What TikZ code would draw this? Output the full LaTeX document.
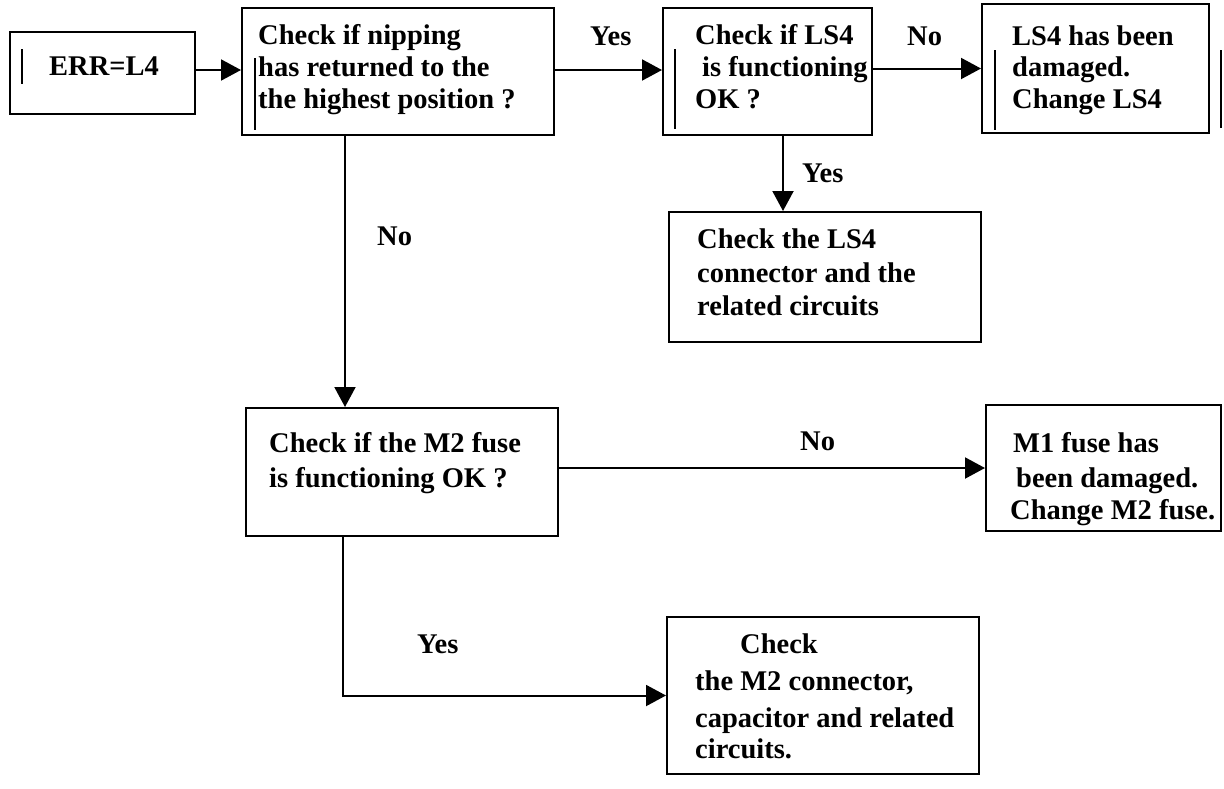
\documentclass[tikz,border=0pt]{standalone}
\usepackage{fontspec}
\setmainfont{Liberation Serif}
\usetikzlibrary{arrows.meta,calc}
\begin{document}
\begin{tikzpicture}[x=1pt,y=-1pt,
  box/.style={draw=black, line width=2pt, rectangle, inner sep=0pt},
  txt/.style={anchor=base west, inner sep=0pt, font=\bfseries\fontsize{28.5}{34}\selectfont},
  arr/.style={draw=black, line width=2pt, -{Triangle[length=20pt,width=21pt]}},
  bar/.style={draw=black, line width=1.8pt}
]
\useasboundingbox (0,0) rectangle (1224,788);
\fill[white] (0,0) rectangle (1224,788);

% boxes
\node[box, minimum width=185pt, minimum height=82pt] (err) at (102.5,73) {};
\node[box, minimum width=312pt, minimum height=127pt] (nip) at (398,71.5) {};
\node[box, minimum width=209pt, minimum height=127pt] (ls4) at (767.5,71.5) {};
\node[box, minimum width=227pt, minimum height=129pt] (dam) at (1095.5,68.5) {};
\node[box, minimum width=312pt, minimum height=130pt] (con) at (825,277) {};
\node[box, minimum width=312pt, minimum height=128pt] (fuse) at (402,472) {};
\node[box, minimum width=235pt, minimum height=126pt] (m1) at (1103.5,468) {};
\node[box, minimum width=312pt, minimum height=157pt] (m2c) at (823,695.5) {};

% cursor bars
\coordinate (b1a) at (22,49); \coordinate (b1b) at (22,84);
\coordinate (b2a) at (255,58); \coordinate (b2b) at (255,130);
\coordinate (b3a) at (675,49); \coordinate (b3b) at (675,129);
\coordinate (b4a) at (995,50); \coordinate (b4b) at (995,130);
\coordinate (b5a) at (1221,50); \coordinate (b5b) at (1221,128);
\draw[bar] (b1a) -- (b1b);
\draw[bar] (b2a) -- (b2b);
\draw[bar] (b3a) -- (b3b);
\draw[bar] (b4a) -- (b4b);
\draw[bar] (b5a) -- (b5b);

% texts
\node[txt] (errT) at (49,75) {ERR=L4};

\node[txt] (nipT1) at (258,44) {Check if nipping};
\node[txt] (nipT2) at (258,76) {has returned to the};
\node[txt] (nipT3) at (258,108) {the highest position ?};

\node[txt] (ls4T1) at (695,44) {Check if LS4};
\node[txt] (ls4T2) at (702,76) {is functioning};
\node[txt] (ls4T3) at (695,108) {OK ?};

\node[txt] (damT1) at (1012,45) {LS4 has been};
\node[txt] (damT2) at (1012,76) {damaged.};
\node[txt] (damT3) at (1012,108) {Change LS4};

\node[txt] (conT1) at (697,248) {Check the LS4};
\node[txt] (conT2) at (697,282) {connector and the};
\node[txt] (conT3) at (697,315) {related circuits};

\node[txt] (fuseT1) at (269,452) {Check if the M2 fuse};
\node[txt] (fuseT2) at (269,487) {is functioning OK ?};

\node[txt] (m1T1) at (1013,452) {M1 fuse has};
\node[txt] (m1T2) at (1016,487) {been damaged.};
\node[txt] (m1T3) at (1010,519) {Change M2 fuse.};

\node[txt] (m2cT1) at (740,653) {Check};
\node[txt] (m2cT2) at (695,690) {the M2 connector,};
\node[txt] (m2cT3) at (695,727) {capacitor and related};
\node[txt] (m2cT4) at (695,758) {circuits.};

% labels
\node[txt] (lYes1) at (590,45) {Yes};
\node[txt] (lNo1) at (907,45) {No};
\node[txt] (lYes2) at (802,182) {Yes};
\node[txt] (lNo2) at (377,245) {No};
\node[txt] (lNo3) at (800,450) {No};
\node[txt] (lYes3) at (417,653) {Yes};

% connectors
\draw[arr] ([yshift=3pt]err.east) -- ([yshift=3pt]err.east -| nip.west);
\draw[arr] ([yshift=1.5pt]nip.east) -- ([yshift=1.5pt]nip.east -| ls4.west);
\draw[arr] (ls4.east |- dam.west) -- (dam.west);
\draw[arr] ([xshift=15.5pt]ls4.south) -- ([xshift=15.5pt]ls4.south |- con.north);
\draw[arr] ([xshift=-53pt]nip.south) -- ([xshift=-53pt]nip.south |- fuse.north);
\draw[arr] (fuse.east |- m1.west) -- (m1.west);
\draw[arr] ([xshift=-59pt]fuse.south) |- (m2c.west);
\end{tikzpicture}
\end{document}
